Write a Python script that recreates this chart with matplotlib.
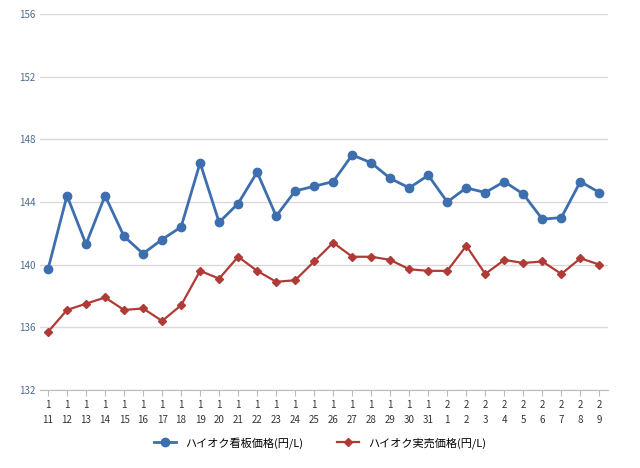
import matplotlib.pyplot as plt
import numpy as np

months = [1] * 21 + [2] * 9
days = list(range(11, 32)) + list(range(1, 10))
signboard = [139.7, 144.4, 141.3, 144.4, 141.8, 140.7, 141.6, 142.4, 146.5, 142.7,
             143.9, 145.9, 143.1, 144.7, 145.0, 145.3, 147.0, 146.5, 145.5, 144.9,
             145.7, 144.0, 144.9, 144.6, 145.3, 144.5, 142.9, 143.0, 145.3, 144.6]
actual = [135.7, 137.1, 137.5, 137.9, 137.1, 137.2, 136.4, 137.4, 139.6, 139.1,
          140.5, 139.6, 138.9, 139.0, 140.2, 141.4, 140.5, 140.5, 140.3, 139.7,
          139.6, 139.6, 141.2, 139.4, 140.3, 140.1, 140.2, 139.4, 140.4, 140.0]

plt.rcParams["font.family"] = ["Noto Sans CJK JP"]
fig = plt.figure(figsize=(6.4, 4.68), dpi=100)
ax = fig.add_axes([0.0625, 0.167, 0.888, 0.803])
x = np.arange(len(days))

ax.plot(x, signboard, '-o', color="#3d6fae", lw=2, ms=6, label="ハイオク看板価格(円/L)")
ax.plot(x, actual, '-D', color="#b03a36", lw=1.6, ms=4, label="ハイオク実売価格(円/L)")

ax.set_ylim(132, 156)
ax.set_yticks(np.arange(132, 157, 4))
ax.set_xlim(-0.42, 29.47)
ax.set_xticks(x)
ax.set_xticklabels([f"{m}\n{d}" for m, d in zip(months, days)], fontsize=7, color="#333333",
                   linespacing=1.6)
ax.tick_params(axis="y", labelsize=7, colors="#4a6a90", length=0)
ax.tick_params(axis="x", length=4, color="#bbbbbb")
ax.grid(axis="y", color="#d9d9d9", lw=1)
ax.set_axisbelow(True)
for s in ["top", "right", "left"]:
    ax.spines[s].set_visible(False)
ax.spines["bottom"].set_color("#bbbbbb")

fig.legend(loc="lower center", bbox_to_anchor=(0.5, 0.02), ncol=2, frameon=False,
           fontsize=8, columnspacing=3, handlelength=2)
fig.savefig("out.png")
